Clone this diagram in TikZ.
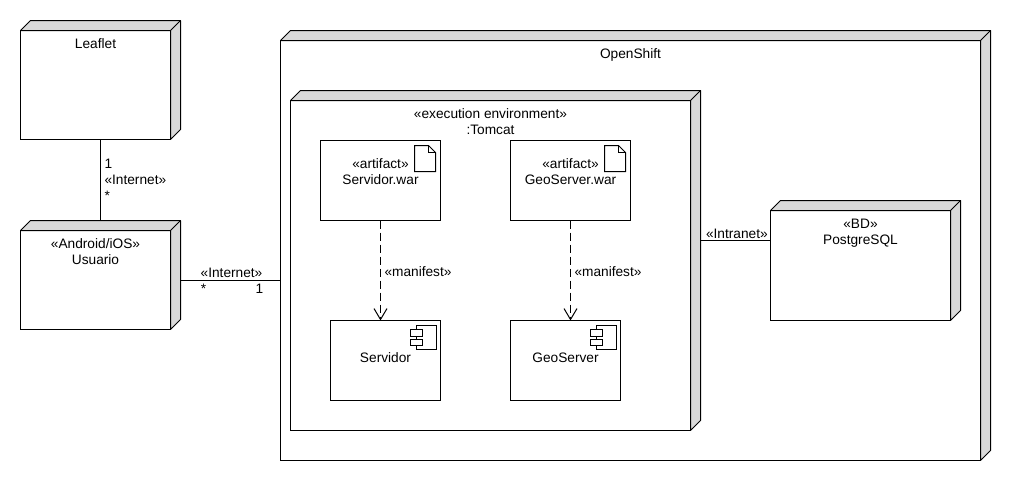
\documentclass[tikz,border=0pt]{standalone}
\usepackage{fontspec}
\setmainfont{Liberation Sans}
\usetikzlibrary{positioning,arrows.meta}
\definecolor{depthgray}{HTML}{D9D9D9}
\tikzset{
	box/.style={draw,line width=1pt,fill=white,anchor=north west,inner sep=0pt,outer sep=0pt},
	boxtext/.style={anchor=north,align=center,inner sep=0pt,outer sep=0pt},
	depthface/.style={draw,line width=1pt,line join=round,fill=depthgray},
	iconline/.style={draw,line width=1pt,fill=white},
	link/.style={line width=1pt},
	manifest/.style={line width=1pt,dash pattern=on 8pt off 4pt,-{Straight Barb[length=11pt,width=13pt]}},
	linktext/.style={inner sep=0pt,outer sep=0pt,align=left},
}
\begin{document}
\begin{tikzpicture}[x=1pt,y=-1pt,font=\fontsize{13.7}{16}\selectfont]
	\useasboundingbox (-0.5,-0.5) rectangle (1009.5,479.5);
	\node[box,minimum width=150pt,minimum height=109pt] (leaflet) at (20,30) {};
	\node[box,minimum width=150pt,minimum height=99pt] (usuario) at (20,230) {};
	\node[box,minimum width=700pt,minimum height=420pt] (openshift) at (280,40) {};
	\node[box,minimum width=400pt,minimum height=330pt] (tomcat) at (290,100) {};
	\node[box,minimum width=180pt,minimum height=110pt] (postgres) at (770,210) {};
	% the 3d faces of the nodes
	\foreach \n in {leaflet,usuario,openshift,tomcat,postgres} {
		\path[depthface] (\n.north west) -- ++(10,-10) -| ([shift={(10,-10)}]\n.south east)
			-- (\n.south east) -- (\n.north east) -- cycle;
		\draw[link] (\n.north east) -- ++(10,-10);
	}
	\node[box,minimum width=120pt,minimum height=80pt] (servidorwar) at (320,140) {};
	\node[box,minimum width=120pt,minimum height=80pt] (geoserverwar) at (510,140) {};
	\node[box,minimum width=110pt,minimum height=80pt] (servidor) at (330,320) {};
	\node[box,minimum width=110pt,minimum height=80pt] (geoserver) at (510,320) {};
	% icons
	\foreach \n in {servidorwar,geoserverwar} {
		\path[iconline,line join=miter] ([shift={(-26,5)}]\n.north east) -- ++(14,0) -- ++(7,7) -- ++(0,19) -- ++(-21,0) -- cycle;
		\draw[line width=1pt] ([shift={(-12,5)}]\n.north east) -- ++(0,7) -- ++(7,0);
	}
	\foreach \n in {servidor,geoserver} {
		\path[iconline] ([shift={(-24,5)}]\n.north east) rectangle ([shift={(-4,29)}]\n.north east);
		\path[iconline] ([shift={(-30,9)}]\n.north east) rectangle ([shift={(-18,16)}]\n.north east);
		\path[iconline] ([shift={(-30,19)}]\n.north east) rectangle ([shift={(-18,25)}]\n.north east);
	}
	%
	\node[boxtext,below=8.5pt of leaflet.north] (leaflettext) {Leaflet};
	\node[boxtext,below=8.5pt of usuario.north] (usuariotext) {«Android/iOS»\\Usuario};
	\node[boxtext,below=8.5pt of openshift.north] (openshifttext) {OpenShift};
	\node[boxtext,below=8.5pt of tomcat.north] (tomcattext) {«execution environment»\\:Tomcat};
	\node[boxtext,below=8.5pt of postgres.north] (postgrestext) {«BD»\\PostgreSQL};
	\node[boxtext,below=18.5pt of servidorwar.north] (servidorwartext) {«artifact»\\Servidor.war};
	\node[boxtext,below=18.5pt of geoserverwar.north] (geoserverwartext) {«artifact»\\GeoServer.war};
	\node[boxtext,below=32pt of servidor.north] (servidortext) {Servidor};
	\node[boxtext,below=32pt of geoserver.north] (geoservertext) {GeoServer};
	%
	\draw[link] ([xshift=5pt]leaflet.south) -- node[linktext,right=4pt] (leafletlabel) {1\\«Internet»\\*} ([shift={(5,-10)}]usuario.north);
	\draw[link] ([xshift=10pt]usuario.east) -- node[linktext,above=2pt,pos=0.51] (internetlabel) {«Internet»} (usuario.east -| openshift.west);
	\node[linktext,below=4.5pt of usuario.east,xshift=33pt] (usuariostar) {*};
	\node[linktext,below=4.5pt of usuario.east -| openshift.west,xshift=-21pt] (openshiftone) {1};
	\draw[link] ([shift={(10,-25)}]tomcat.east) -- node[linktext,above=2pt,pos=0.52] (intranetlabel) {«Intranet»} ([yshift=25pt]postgres.west);
	\draw[manifest] (servidorwar.south) -- node[linktext,right=4pt,yshift=-1pt] (manifestone) {«manifest»} (servidorwar.south |- servidor.north);
	\draw[manifest] (geoserverwar.south) -- node[linktext,right=4pt,yshift=-1pt] (manifesttwo) {«manifest»} (geoserverwar.south |- geoserver.north);
\end{tikzpicture}
\end{document}
